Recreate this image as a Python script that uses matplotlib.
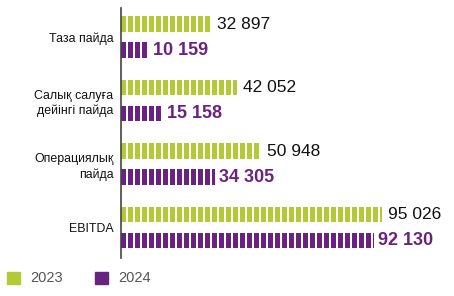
import numpy as np
import matplotlib.pyplot as plt

categories = ['Таза пайда', 'Салық салуға\nдейінгі пайда', 'Операциялық\nпайда', 'EBITDA']
values_2023 = [32897, 42052, 50948, 95026]
values_2024 = [10159, 15158, 34305, 92130]
series_labels = ['2023', '2024']

green = '#B3C935'
purple = '#6A2281'

W, H = 454, 296
fig = plt.figure(figsize=(W / 100, H / 100), dpi=100)
ax_left, ax_right, ax_top, ax_bottom = 121, 440, 8, 258
ax = fig.add_axes([ax_left / W, 1 - ax_bottom / H, (ax_right - ax_left) / W, (ax_bottom - ax_top) / H])

xmax = 116000
ax.set_xlim(0, xmax)
ax.set_ylim(3.48, -0.46)

y = np.arange(len(categories))
off, h = 0.205, 0.245
ax.barh(y - off, values_2023, height=h, color=green, zorder=1)
ax.barh(y + off, values_2024, height=h, color=purple, zorder=1)

# white gaps to make the bars look segmented (7 px period, 2 px gap)
px = xmax / (ax_right - ax_left)
gaps = np.arange(6 * px, xmax, 7 * px)
ax.vlines(gaps, -1, 4, colors='white', linewidth=1.44, zorder=2)

for yi, v in zip(y, values_2023):
    ax.text(v + 6 * px, yi - off, f'{v:,}'.replace(',', ' '), va='center', ha='left',
            fontsize=12.5, color='#111111', family='Liberation Sans', zorder=3)
for yi, v in zip(y, values_2024):
    ax.text(v + 4 * px, yi + off, f'{v:,}'.replace(',', ' '), va='center', ha='left',
            fontsize=13, color=purple, fontweight='bold', family='Liberation Sans', zorder=3)

ax.set_yticks(y)
ax.set_yticklabels(categories, fontsize=8.9, family='Liberation Sans', color='#111111',
                   linespacing=1.3)
ax.tick_params(axis='y', length=0, pad=5.5)
ax.set_xticks([])
for s in ['top', 'right', 'bottom']:
    ax.spines[s].set_visible(False)
ax.spines['left'].set_color('#444444')
ax.spines['left'].set_linewidth(1.2)

# legend
for i, (lab, col) in enumerate(zip(series_labels, [green, purple])):
    x0 = 7 + i * 88
    fig.patches.append(plt.Rectangle((x0 / W, 1 - 284 / H), 13 / W, 12 / H,
                                     transform=fig.transFigure, color=col))
    fig.text((x0 + 23) / W, 1 - 278 / H, lab, va='center', ha='left',
             fontsize=10.5, color='#555555', family='Liberation Sans')

fig.savefig('out.png', dpi=100)
